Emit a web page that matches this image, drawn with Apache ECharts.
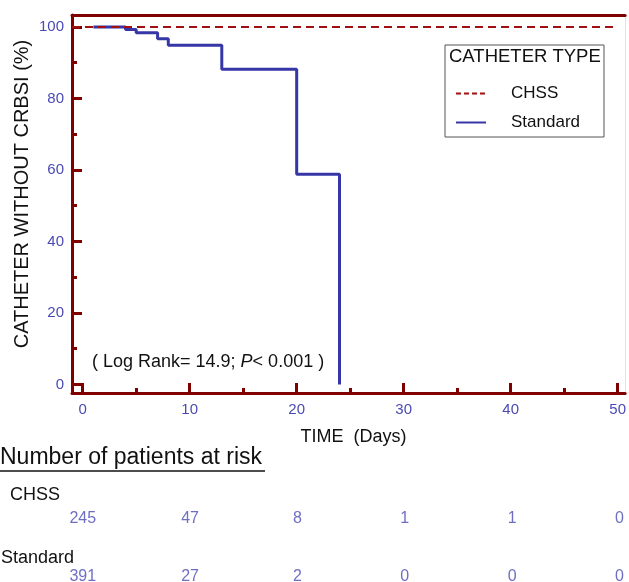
<!DOCTYPE html>
<html><head><meta charset="utf-8">
<script src="https://cdn.jsdelivr.net/npm/echarts@6/dist/echarts.min.js"></script>
<style>html,body{margin:0;padding:0;background:#fff}#c{width:629px;height:582px}</style>
</head><body><div id="c"></div>
<script>
const xTicks = [0, 10, 20, 30, 40, 50];
const xMinorTicks = [5, 15, 25, 35, 45];
const yTicks = [0, 20, 40, 60, 80, 100];
const yMinorTicks = [10, 30, 50, 70, 90];
const chssX = [-1, 50];
const chssY = [100, 100];
const stdX = [1, 4, 5, 7, 8, 13, 20, 24];
const stdY = [100, 99.3, 98.4, 96.7, 94.9, 88.2, 58.8, 0];
const riskTimes = [0, 10, 20, 30, 40, 50];
const riskCHSS = [245, 47, 8, 1, 1, 0];
const riskStandard = [391, 27, 2, 0, 0, 0];

const RED = '#800000';
const BLUE = '#3636a6';
const LBLUE = '#4a4ab4';
const FONT = '"Liberation Sans", Arial, sans-serif';
const X_MIN = -1, X_MAX = 50.7, Y_MIN = -2.4, Y_MAX = 103.35;

const chart = echarts.init(document.getElementById('c'), null, {renderer: 'canvas'});

function baseX(extra) {
  return Object.assign({
    type: 'value', gridIndex: 0, min: X_MIN, max: X_MAX, position: 'bottom',
    splitLine: {show: false},
    axisLine: {show: false, onZero: false},
    axisTick: {show: false},
    axisLabel: {show: false}
  }, extra);
}
function baseY(extra) {
  return Object.assign({
    type: 'value', gridIndex: 0, min: Y_MIN, max: Y_MAX, position: 'left',
    splitLine: {show: false},
    axisLine: {show: false, onZero: false},
    axisTick: {show: false},
    axisLabel: {show: false}
  }, extra);
}

const option = {
  backgroundColor: '#fff',
  animation: false,
  grid: [
    {left: 72, top: 15, width: 555, height: 378},
    {left: 72, top: 519, width: 555, height: 58}
  ],
  xAxis: [
    baseX({
      axisLine: {show: true, onZero: false, lineStyle: {color: RED, width: 3}},
      axisTick: {show: true, inside: true, length: 10, customValues: xTicks, lineStyle: {color: RED, width: 3}},
      axisLabel: {show: true, customValues: xTicks, margin: 9, color: LBLUE, fontSize: 15, fontFamily: FONT},
      name: 'TIME  (Days)', nameLocation: 'middle', nameGap: 35,
      nameTextStyle: {color: '#111', fontSize: 18, fontFamily: FONT, padding: [0, 0, 0, 10]}
    }),
    baseX({
      axisTick: {show: true, inside: true, length: 5, customValues: xMinorTicks, lineStyle: {color: RED, width: 3}}
    }),
    baseX({
      position: 'top',
      axisLine: {show: true, onZero: false, lineStyle: {color: RED, width: 3}}
    }),
    {type: 'value', gridIndex: 1, min: X_MIN, max: X_MAX, show: false}
  ],
  yAxis: [
    baseY({
      axisLine: {show: true, onZero: false, lineStyle: {color: RED, width: 3}},
      axisTick: {show: true, inside: true, length: 10, customValues: yTicks, lineStyle: {color: RED, width: 3}},
      axisLabel: {show: true, customValues: yTicks, margin: 8, color: LBLUE, fontSize: 15, fontFamily: FONT},
      name: 'CATHETER WITHOUT CRBSI (%)', nameLocation: 'middle', nameGap: 40, nameMoveOverlap: false,
      nameTextStyle: {color: '#111', fontSize: 20, fontFamily: FONT, padding: [0, 0, 0, 20]}
    }),
    baseY({
      axisTick: {show: true, inside: true, length: 5, customValues: yMinorTicks, lineStyle: {color: RED, width: 3}}
    }),
    baseY({
      position: 'right',
      axisLine: {show: true, onZero: false, lineStyle: {color: '#f2dede', width: 1}}
    }),
    {type: 'value', gridIndex: 1, min: 0, max: 1, inverse: true, show: false}
  ],
  title: [
    {text: 'CATHETER TYPE', left: 449, top: 47, padding: 0,
     textStyle: {color: '#111', fontSize: 18.5, fontWeight: 'normal', fontFamily: FONT}},
    {text: '( Log Rank= 14.9; {i|P}< 0.001 )', left: 92, top: 353, padding: 0,
     textStyle: {color: '#111', fontSize: 18, fontWeight: 'normal', fontFamily: FONT,
       rich: {i: {fontStyle: 'italic', fontSize: 18, color: '#111', fontFamily: FONT}}}},
    {text: 'Number of patients at risk', left: 0, top: 446, padding: 0,
     textStyle: {color: '#111', fontSize: 23, fontWeight: 'normal', fontFamily: FONT}},
    {text: 'CHSS', left: 10, top: 486, padding: 0,
     textStyle: {color: '#111', fontSize: 18, fontWeight: 'normal', fontFamily: FONT}},
    {text: 'Standard', left: 1, top: 549, padding: 0,
     textStyle: {color: '#111', fontSize: 18, fontWeight: 'normal', fontFamily: FONT}}
  ],
  legend: {
    orient: 'vertical', left: 445, top: 45,
    padding: [40, 24, 6, 10],
    borderColor: '#555', borderWidth: 1,
    itemWidth: 30, itemHeight: 14, itemGap: 12,
    itemStyle: {opacity: 0},
    textStyle: {color: '#111', fontSize: 17, fontFamily: FONT, padding: [0, 0, 0, 20]},
    data: [
      {name: 'CHSS', lineStyle: {type: [5, 3], width: 2}},
      {name: 'Standard', lineStyle: {width: 2}}
    ]
  },
  graphic: [
    {type: 'line', shape: {x1: 0, y1: 471, x2: 265, y2: 471}, style: {stroke: '#111', lineWidth: 1.3}}
  ],
  series: [
    {
      name: 'Standard', type: 'line', xAxisIndex: 0, yAxisIndex: 0, step: 'end',
      symbol: 'none', lineStyle: {color: BLUE, width: 3}, itemStyle: {color: BLUE},
      data: stdX.map((x, i) => [x, stdY[i]]), z: 2
    },
    {
      name: 'CHSS', type: 'line', xAxisIndex: 0, yAxisIndex: 0,
      symbol: 'none', lineStyle: {color: '#a01010', width: 2, type: [8, 5]}, itemStyle: {color: '#a01010'},
      data: chssX.map((x, i) => [x, chssY[i]]), z: 3
    },
    {
      name: 'riskCHSS', type: 'scatter', xAxisIndex: 3, yAxisIndex: 3, symbolSize: 1,
      itemStyle: {color: 'rgba(0,0,0,0)'}, silent: true,
      label: {show: true, position: 'inside', formatter: p => String(p.value[2]),
        color: LBLUE, fontSize: 16, fontFamily: FONT},
      data: riskTimes.map((t, i) => [t, 0, riskCHSS[i]])
    },
    {
      name: 'riskStandard', type: 'scatter', xAxisIndex: 3, yAxisIndex: 3, symbolSize: 1,
      itemStyle: {color: 'rgba(0,0,0,0)'}, silent: true,
      label: {show: true, position: 'inside', formatter: p => String(p.value[2]),
        color: LBLUE, fontSize: 16, fontFamily: FONT},
      data: riskTimes.map((t, i) => [t, 1, riskStandard[i]])
    }
  ]
};
chart.setOption(option);
</script></body></html>
